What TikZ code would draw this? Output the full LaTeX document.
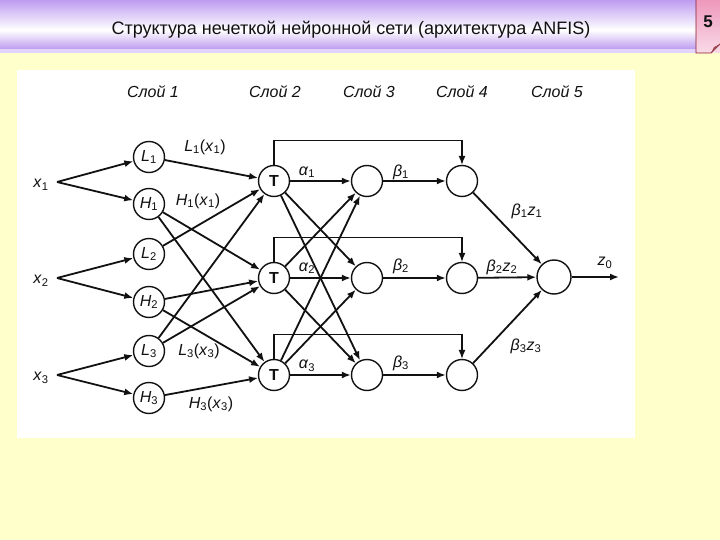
\documentclass[tikz,border=0pt]{standalone}
\usepackage{fontspec}
\setmainfont{Liberation Sans}
\usetikzlibrary{arrows.meta,calc}
\definecolor{slide}{HTML}{FFFFCC}
\definecolor{lilac}{HTML}{BE9CF0}
\definecolor{lilaclight}{HTML}{E2D4FA}
\definecolor{tabpink}{HTML}{EE98BC}
\definecolor{tabline}{HTML}{8A1C2C}
\definecolor{ink}{HTML}{111111}
\tikzset{
  >={Latex[length=9pt,width=7pt]},
  every node/.style={text=ink},
  neuron/.style={draw=ink,line width=1.4pt,circle,minimum size=31pt,inner sep=0pt,font=\fontsize{16}{18}\selectfont},
  sumnode/.style={neuron,minimum size=34pt},
  arrow/.style={->,line width=1.8pt,draw=ink},
  link/.style={->,line width=1.1pt,draw=ink},
  layertitle/.style={font=\fontsize{16}{19}\selectfont\itshape},
  sig/.style={font=\fontsize{16}{18}\selectfont,inner sep=1pt},
}
\newcommand{\vsub}[2]{\textit{#1}\textsubscript{#2}}

\begin{document}
\begin{tikzpicture}[x=1pt,y=-1pt]
  % slide and title bar
  \fill[slide] (0,0) rectangle (720,540);
  \useasboundingbox (0,0) rectangle (720,540);
  \shade[top color=lilac,bottom color=white] (0,0) rectangle (696,30);
  \shade[top color=white,bottom color=lilac] (0,30) rectangle (696,49);
  \fill[lilaclight] (0,49) rectangle (696,53);
  \node[font=\fontsize{18}{21}\selectfont] (title) at (351,30) {Структура нечеткой нейронной сети (архитектура ANFIS)};
  % page tab
  \shade[top color=tabpink,bottom color=tabpink!35] (696,0) rectangle (720,53);
  \draw[tabline,line width=0.8pt] (696,0) -- (696,53) -- (711,53) -- (720,44);
  \fill[tabline!80] (711,53) -- (720,44) -- (714,47) -- cycle;
  \node[font=\bfseries\fontsize{17}{19}\selectfont] (pageno) at (708,22) {5};
  % picture area
  \fill[white] (17,70) rectangle (635,438);

  \foreach \n/\x in {1/153,2/275,3/369,4/462,5/557}
    \node[layertitle] (layer\n) at (\x,92) {Слой \n};

  % inputs
  \foreach \i/\y in {1/182,2/278,3/375} {
    \coordinate (f\i) at (57,\y);
    \node[sig] (x\i) at (41,\y+3) {\vsub{x}{\i}};
  }

  % layer 1
  \foreach \n/\t/\k/\y in {L1/L/1/157,H1/H/1/204,L2/L/2/254,H2/H/2/302,L3/L/3/351,H3/H/3/398}
    \node[neuron] (\n) at (149,\y) {\vsub{\t}{\k}};

  % layers 2-4
  \foreach \i/\y in {1/181,2/278,3/375} {
    \node[neuron,font=\bfseries\fontsize{16}{18}\selectfont] (T\i) at (274,\y) {T};
    \node[neuron] (N\i) at (367,\y) {};
    \node[neuron] (P\i) at (462,\y) {};
  }
  \node[sumnode] (S) at (554,277) {};
  \coordinate (out) at (619,277);

  % connections
  \foreach \i in {1,2,3} {
    \draw[arrow] (f\i) -- (L\i);
    \draw[arrow] (f\i) -- (H\i);
  }
  \foreach \a/\b in {L1/T1,L2/T1,L3/T1,H1/T2,H2/T2,L3/T2,H1/T3,H2/T3,H3/T3}
    \draw[arrow] (\a) -- (\b);
  \foreach \i in {1,2,3}
    \foreach \j in {1,2,3}
      \draw[arrow] (T\i) -- (N\j);
  \foreach \i in {1,2,3} {
    \draw[arrow] (N\i) -- (P\i);
    \draw[arrow] (P\i) -- (S);
    \draw[link] (T\i.north) -- ++(0,-24) -| (P\i.north);
  }
  \draw[arrow] (S) -- (out);

  % signal labels
  \node[sig] (l1x1) at (205,147) {\vsub{L}{1}(\vsub{x}{1})};
  \node[sig] (h1x1) at (198,201) {\vsub{H}{1}(\vsub{x}{1})};
  \node[sig] (l3x3) at (199,351) {\vsub{L}{3}(\vsub{x}{3})};
  \node[sig] (h3x3) at (211,404) {\vsub{H}{3}(\vsub{x}{3})};
  \foreach \i/\y in {1/172,2/268,3/366}
    \node[sig] (a\i) at (307,\y) {\vsub{α}{\i}};
  \node[sig] (b1) at (401,172) {\vsub{β}{1}};
  \node[sig] (b2) at (401,266) {\vsub{β}{2}};
  \node[sig] (b3) at (401,363) {\vsub{β}{3}};
  \node[sig] (bz1) at (527,211) {\vsub{β}{1}\vsub{z}{1}};
  \node[sig] (bz2) at (502,267) {\vsub{β}{2}\vsub{z}{2}};
  \node[sig] (bz3) at (526,346) {\vsub{β}{3}\vsub{z}{3}};
  \node[sig] (z0) at (605,263) {\vsub{z}{0}};
\end{tikzpicture}
\end{document}
